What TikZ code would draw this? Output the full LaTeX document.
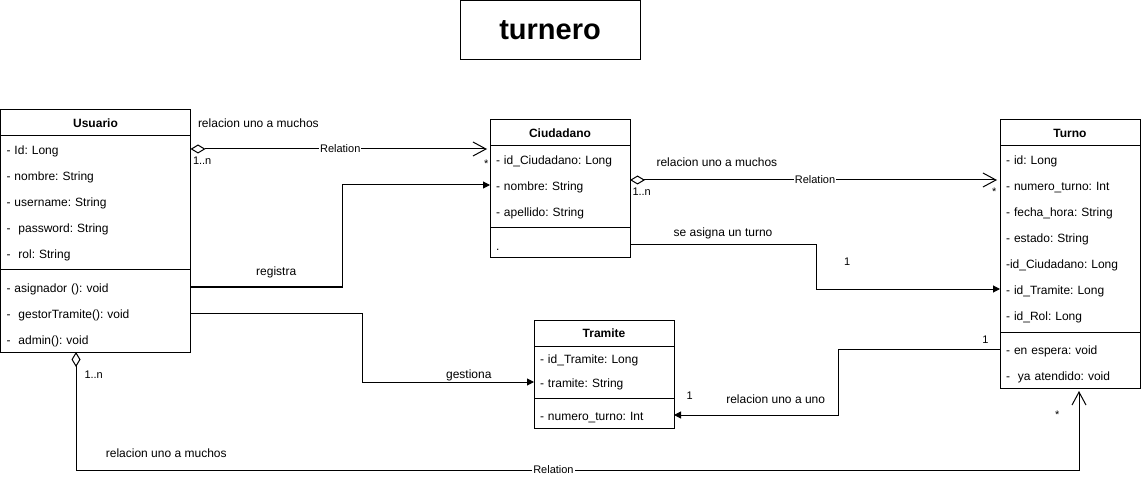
\documentclass[tikz,border=0pt]{standalone}
\usepackage{fontspec}
\setmainfont{Liberation Sans}
\frenchspacing
\usetikzlibrary{positioning,arrows.meta}
\begin{document}
\begin{tikzpicture}[x=1pt, y=-1pt, line width=1pt, font=\fontsize{12}{14}\selectfont]

\tikzstyle{chead}=[rectangle, draw, minimum height=26pt, inner sep=0pt, outer sep=0pt, font=\fontsize{12}{14}\selectfont\bfseries]
\tikzstyle{attr}=[rectangle, minimum height=26pt, inner xsep=6pt, inner ysep=0pt, outer sep=0pt, align=left, text height=11pt, text depth=0pt]
\tikzstyle{uattr}=[attr, text width=178pt]
\tikzstyle{cattr}=[attr, text width=128pt]
\tikzstyle{lbl}=[inner sep=0pt, font=\fontsize{12}{14}\selectfont]
\tikzstyle{tag}=[inner sep=0pt, font=\fontsize{11}{13}\selectfont]
\tikzstyle{rel}=[tag, fill=white, inner xsep=1pt]
\tikzstyle{agg}=[{Diamond[open,length=15pt,width=9pt]}-{Straight Barb[length=13pt,width=14pt]}, shorten >=3pt]
\tikzstyle{assoc}=[-{Triangle[length=7pt,width=7pt]}]

\useasboundingbox (0,0) rectangle (1141,489);

\node (title) [draw, minimum width=180pt, minimum height=59pt, font=\fontsize{29}{34}\selectfont\bfseries] at (550,30.5) {turnero};

% Usuario
\node (U) [chead, minimum width=190pt] at (95.5,123) {Usuario};
\node (U1) [uattr, below=0pt of U] {- Id: Long};
\node (U2) [uattr, below=0pt of U1] {- nombre: String};
\node (U3) [uattr, below=0pt of U2] {- username: String};
\node (U4) [uattr, below=0pt of U3] {-~ password: String};
\node (U5) [uattr, below=0pt of U4] {-~ rol: String};
\node (U6) [uattr, below=8pt of U5] {- asignador (): void};
\node (U7) [uattr, below=0pt of U6] {-~ gestorTramite(): void};
\node (U8) [uattr, below=0pt of U7] {-~ admin(): void};
\draw (U.north west) rectangle (U8.south east);
\draw ([yshift=-4pt]U5.south west) -- ([yshift=-4pt]U5.south east);

% Ciudadano
\node (C) [chead, minimum width=140pt] at (560,133) {Ciudadano};
\node (C1) [cattr, below=0pt of C] {- id\_Ciudadano: Long};
\node (C2) [cattr, below=0pt of C1] {- nombre: String};
\node (C3) [cattr, below=0pt of C2] {- apellido: String};
\node (C4) [cattr, below=8pt of C3] {.};
\draw (C.north west) rectangle (C4.south east);
\draw ([yshift=-4pt]C3.south west) -- ([yshift=-4pt]C3.south east);

% Turno
\node (T) [chead, minimum width=140pt] at (1070,133) {Turno};
\node (T1) [cattr, below=0pt of T] {- id: Long};
\node (T2) [cattr, below=0pt of T1] {- numero\_turno: Int};
\node (T3) [cattr, below=0pt of T2] {- fecha\_hora: String};
\node (T4) [cattr, below=0pt of T3] {- estado: String};
\node (T5) [cattr, below=0pt of T4] {-id\_Ciudadano: Long};
\node (T6) [cattr, below=0pt of T5] {- id\_Tramite: Long};
\node (T7) [cattr, below=0pt of T6] {- id\_Rol: Long};
\node (T8) [cattr, below=8pt of T7] {- en espera: void};
\node (T9) [cattr, below=0pt of T8] {-~ ya atendido: void};
\draw (T.north west) rectangle (T9.south east);
\draw ([yshift=-4pt]T7.south west) -- ([yshift=-4pt]T7.south east);

% Tramite
\node (R) [chead, minimum width=140pt] at (604,333) {Tramite};
\node (R1) [cattr, minimum height=24pt, below=0pt of R] {- id\_Tramite: Long};
\node (R2) [cattr, minimum height=24pt, below=0pt of R1] {- tramite: String};
\node (R3) [cattr, below=8pt of R2] {- numero\_turno: Int};
\draw (R.north west) rectangle (R3.south east);
\draw ([yshift=-4pt]R2.south west) -- ([yshift=-4pt]R2.south east);

% relations
\draw [agg] (U1.east) -- node[rel] (r1) {Relation} (U1.east -| C.west)
  node[lbl, at start, anchor=south west, xshift=7pt, yshift=21pt] (m1) {relacion uno a muchos}
  node[tag, at start, anchor=north west, xshift=2pt, yshift=-7pt] (n1) {1..n}
  node[tag, at end, anchor=north east, xshift=-1pt, yshift=-10pt] (s1) {*};

\draw [agg] ([yshift=5pt]C2.east) -- node[rel] (r2) {Relation} ([yshift=5pt]C2.east -| T.west)
  node[lbl, at start, anchor=south west, xshift=26pt, yshift=13pt] (m2) {relacion uno a muchos}
  node[tag, at start, anchor=north west, xshift=2pt, yshift=-7pt] (n2) {1..n}
  node[tag, at end, anchor=north east, xshift=-3pt, yshift=-7pt] (s2) {*};

\draw [assoc] (U6.east) -- node[lbl, above=9pt, xshift=10pt] (t1) {registra} ++(151.5,0) |- (C2.west);

\draw [assoc] (U7.east) -- ++(172,0) |- node[lbl, pos=0.81, above=1pt] (t2) {gestiona} (R2.west);

\draw [assoc] (C4.east) -- node[lbl, above=6pt] (t3) {se asigna un turno} ++(186,0) |- node[tag, pos=0.585, above=23pt] (o1) {1} (T6.west);

\draw [assoc] (T8.west) -- node[tag, at start, anchor=south east, xshift=-11pt, yshift=5pt] (o2) {1} ++(-162,0) |- node[lbl, pos=0.69, above=11pt] (t4) {relacion uno a uno} (R3.east)
  node[tag, at end, anchor=south west, xshift=12pt, yshift=15pt] (o3) {1};

\draw [agg] ([xshift=-19.5pt]U8.south) -- node[tag, at start, anchor=north west, xshift=8pt, yshift=-18pt] (n3) {1..n} ++(0,118) -| node[rel, pos=0.238] (r3) {Relation} node[lbl, pos=0.045, above=12pt] (m3) {relacion uno a muchos} ([xshift=9pt]T9.south)
  node[tag, at end, anchor=north east, xshift=-19pt, yshift=-22pt] (s3) {*};

\end{tikzpicture}
\end{document}
